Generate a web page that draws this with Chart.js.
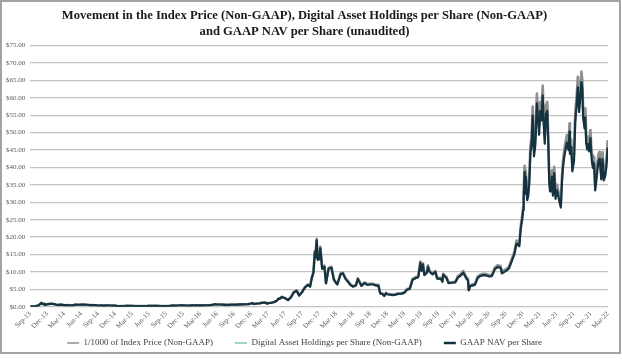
<!DOCTYPE html>
<html>
<head>
<meta charset="utf-8">
<script src="https://cdn.jsdelivr.net/npm/chart.js@4.4.1/dist/chart.umd.min.js"></script>
<style>
  html, body { margin: 0; padding: 0; background: #fff; }
  #wrap { width: 622px; height: 360px; }
</style>
</head>
<body>
<div id="wrap"><canvas id="navChart" width="622" height="360"></canvas></div>
<script>
// quarter labels on the x axis
var quarterLabels = ['Sep-13','Dec-13','Mar-14','Jun-14','Sep-14','Dec-14','Mar-15','Jun-15','Sep-15','Dec-15',
    'Mar-16','Jun-16','Sep-16','Dec-16','Mar-17','Jun-17','Sep-17','Dec-17','Mar-18','Jun-18','Sep-18','Dec-18',
    'Mar-19','Jun-19','Sep-19','Dec-19','Mar-20','Jun-20','Sep-20','Dec-20','Mar-21','Jun-21','Sep-21','Dec-21','Mar-22'];

var dates = [
    "2013-09-30","2013-10-15","2013-10-31","2013-11-15","2013-11-22","2013-11-30","2013-12-07","2013-12-15","2013-12-18","2013-12-31",
    "2014-01-15","2014-01-31","2014-02-15","2014-02-28","2014-03-15","2014-03-31","2014-04-15","2014-04-30","2014-05-15","2014-05-31","2014-06-15","2014-06-30","2014-07-15","2014-07-31","2014-08-15","2014-08-31","2014-09-15","2014-09-30","2014-10-15","2014-10-31","2014-11-15","2014-11-30","2014-12-15","2014-12-31",
    "2015-01-14","2015-01-31","2015-02-15","2015-02-28","2015-03-15","2015-03-31","2015-04-15","2015-04-30","2015-05-15","2015-05-31","2015-06-15","2015-06-30","2015-07-15","2015-07-31","2015-08-15","2015-08-31","2015-09-15","2015-09-30","2015-10-15","2015-10-31","2015-11-04","2015-11-15","2015-11-30","2015-12-15","2015-12-31",
    "2016-01-15","2016-01-31","2016-02-15","2016-02-29","2016-03-15","2016-03-31","2016-04-15","2016-04-30","2016-05-15","2016-05-31","2016-06-17","2016-06-30","2016-07-15","2016-07-31","2016-08-15","2016-08-31","2016-09-15","2016-09-30","2016-10-15","2016-10-31","2016-11-15","2016-11-30","2016-12-15","2016-12-31",
    "2017-01-05","2017-01-15","2017-01-31","2017-02-15","2017-02-28","2017-03-15","2017-03-24","2017-03-31","2017-04-15","2017-04-30","2017-05-15","2017-05-25","2017-05-31","2017-06-12","2017-06-30","2017-07-15","2017-07-31","2017-08-15","2017-08-31","2017-09-14","2017-09-30","2017-10-15","2017-10-31","2017-11-12","2017-11-20","2017-11-30","2017-12-07","2017-12-10","2017-12-17","2017-12-22","2017-12-31",
    "2018-01-06","2018-01-16","2018-01-28","2018-02-06","2018-02-20","2018-03-05","2018-03-18","2018-03-31","2018-04-06","2018-04-24","2018-05-05","2018-05-20","2018-05-31","2018-06-15","2018-06-29","2018-07-15","2018-07-25","2018-08-14","2018-08-31","2018-09-15","2018-09-30","2018-10-15","2018-10-31","2018-11-14","2018-11-20","2018-11-25","2018-12-05","2018-12-15","2018-12-24","2018-12-31",
    "2019-01-15","2019-01-31","2019-02-15","2019-02-28","2019-03-15","2019-03-31","2019-04-15","2019-04-30","2019-05-15","2019-05-31","2019-06-15","2019-06-26","2019-07-02","2019-07-10","2019-07-17","2019-07-31","2019-08-06","2019-08-15","2019-08-31","2019-09-15","2019-09-25","2019-10-15","2019-10-23","2019-10-27","2019-11-15","2019-11-25","2019-12-15","2019-12-31",
    "2020-01-15","2020-01-31","2020-02-13","2020-02-29","2020-03-08","2020-03-12","2020-03-20","2020-03-31","2020-04-15","2020-04-30","2020-05-15","2020-05-31","2020-06-15","2020-06-30","2020-07-15","2020-07-31","2020-08-15","2020-08-31","2020-09-08","2020-09-30","2020-10-15","2020-10-31","2020-11-15","2020-11-25","2020-11-30","2020-12-10","2020-12-17","2020-12-26","2020-12-31",
    "2021-01-03","2021-01-08","2021-01-11","2021-01-14","2021-01-22","2021-01-28","2021-02-03","2021-02-09","2021-02-15","2021-02-21","2021-02-28","2021-03-05","2021-03-13","2021-03-18","2021-03-25","2021-03-31","2021-04-07","2021-04-14","2021-04-18","2021-04-25",
    "2021-05-01","2021-05-08","2021-05-13","2021-05-19","2021-05-23","2021-05-28","2021-06-03","2021-06-08","2021-06-15","2021-06-22","2021-06-30","2021-07-08","2021-07-20","2021-07-26","2021-07-31","2021-08-07","2021-08-14","2021-08-22","2021-08-31","2021-09-06",
    "2021-09-08","2021-09-15","2021-09-21","2021-09-30","2021-10-06","2021-10-15","2021-10-20","2021-10-27","2021-11-03","2021-11-09","2021-11-14","2021-11-18","2021-11-26","2021-11-30","2021-12-04","2021-12-10","2021-12-15","2021-12-20","2021-12-27","2021-12-31",
    "2022-01-05","2022-01-10","2022-01-16","2022-01-22","2022-01-28","2022-02-04","2022-02-10","2022-02-16","2022-02-24","2022-03-01","2022-03-07","2022-03-15","2022-03-22","2022-03-28","2022-03-31"
];

// 1/1000 of Index Price (Non-GAAP)
var indexPrice = [
    0.13,0.15,0.20,0.42,0.80,1.13,0.75,0.85,0.55,0.75,
    0.85,0.83,0.65,0.56,0.63,0.46,0.52,0.45,0.45,0.63,0.60,0.64,0.62,0.59,0.50,0.48,0.47,0.38,0.39,0.33,0.40,0.38,0.35,0.32,
    0.18,0.23,0.24,0.26,0.29,0.25,0.22,0.24,0.24,0.23,0.24,0.26,0.29,0.28,0.26,0.23,0.23,0.24,0.26,0.33,0.45,0.33,0.37,0.45,0.43,
    0.38,0.37,0.40,0.43,0.41,0.42,0.43,0.45,0.45,0.53,0.75,0.67,0.66,0.62,0.57,0.57,0.61,0.61,0.64,0.70,0.71,0.74,0.78,0.96,
    1.10,0.82,0.97,1.00,1.19,1.25,0.93,1.08,1.18,1.35,1.75,2.40,2.30,2.90,2.50,1.95,2.80,4.20,4.70,3.30,4.30,5.70,6.40,5.90,8.20,10.0,16.0,14.5,19.5,13.8,13.9,
    17.2,11.2,11.8,6.9,11.2,11.5,7.9,6.9,6.6,9.6,9.8,8.2,7.5,6.5,5.9,6.3,8.2,6.2,7.0,6.5,6.6,6.6,6.3,6.3,4.6,3.9,3.8,3.2,4.0,3.7,
    3.6,3.45,3.6,3.8,3.9,4.1,5.1,5.3,8.0,8.5,8.8,13.0,10.6,12.5,9.4,10.1,11.9,10.3,9.6,10.3,8.4,8.3,7.4,9.5,8.5,7.0,7.1,7.2,
    8.8,9.4,10.3,8.6,8.0,4.9,6.2,6.4,6.6,8.7,9.3,9.5,9.4,9.1,9.2,11.3,11.9,11.7,10.1,10.8,11.5,13.8,16.0,19.0,18.8,18.2,23.0,26.5,29.0,
    32.8,40.5,34.0,39.2,32.0,33.5,37.5,46.5,48.7,57.5,45.2,48.8,61.2,57.5,51.7,58.8,56.0,63.5,56.2,49.0,
    57.8,58.8,49.7,37.0,34.7,35.6,39.2,33.4,40.2,32.5,35.0,32.9,29.8,37.3,41.5,44.6,47.0,49.3,47.1,52.7,
    46.0,48.1,40.7,43.8,55.4,61.5,66.0,58.5,63.0,67.5,65.0,56.9,53.6,57.0,49.2,47.2,48.9,46.7,50.7,46.3,
    43.5,41.8,43.1,35.0,37.7,41.5,44.0,44.5,38.3,44.4,38.0,39.3,42.4,47.5,45.5
];

// GAAP NAV per share (digital asset holdings per share sits on the same values in the picture)
var navPerShare = [
    0.13,0.15,0.20,0.42,0.80,1.13,0.75,0.85,0.55,0.75,
    0.85,0.83,0.65,0.56,0.63,0.46,0.52,0.45,0.45,0.63,0.60,0.64,0.62,0.59,0.50,0.48,0.47,0.38,0.39,0.33,0.40,0.38,0.35,0.32,
    0.18,0.23,0.24,0.26,0.29,0.25,0.22,0.24,0.24,0.23,0.24,0.26,0.29,0.28,0.26,0.23,0.23,0.24,0.26,0.33,0.45,0.33,0.37,0.45,0.43,
    0.38,0.37,0.40,0.43,0.41,0.42,0.43,0.45,0.45,0.53,0.75,0.67,0.66,0.62,0.57,0.57,0.61,0.61,0.64,0.70,0.71,0.74,0.78,0.96,
    1.08,0.80,0.95,0.98,1.17,1.22,0.91,1.06,1.16,1.32,1.71,2.35,2.25,2.84,2.45,1.91,2.74,4.11,4.60,3.23,4.21,5.58,6.27,5.78,8.03,9.80,15.7,14.2,19.1,13.5,13.6,
    16.8,10.9,11.5,6.7,10.9,11.2,7.7,6.7,6.4,9.4,9.6,8.0,7.3,6.3,5.8,6.1,8.0,6.0,6.8,6.3,6.4,6.4,6.1,6.1,4.5,3.8,3.7,3.1,3.9,3.6,
    3.5,3.35,3.5,3.7,3.8,4.0,4.9,5.1,7.8,8.2,8.5,12.6,10.3,12.1,9.1,9.8,11.5,10.0,9.3,10.0,8.1,8.0,7.2,9.2,8.2,6.8,6.9,7.0,
    8.4,9.0,9.8,8.2,7.6,4.7,5.9,6.1,6.3,8.3,8.9,9.1,9.0,8.7,8.8,10.8,11.4,11.2,9.6,10.3,11.0,13.2,15.3,18.1,18.0,17.4,22.0,25.3,27.7,
    31.3,38.7,32.5,37.4,30.6,32.0,35.8,44.4,46.5,54.9,43.2,46.6,58.4,54.9,49.4,56.2,53.5,60.6,53.7,46.8,
    55.2,56.2,47.5,35.3,33.1,34.0,37.4,31.9,38.4,31.0,33.4,31.4,28.5,35.6,39.6,42.6,44.9,47.1,45.0,50.3,
    43.9,45.9,38.9,41.8,52.9,58.7,63.0,55.9,60.2,64.5,62.1,54.3,51.2,54.4,47.0,45.1,46.7,44.6,48.4,44.2,
    41.5,39.9,41.2,33.4,36.0,39.6,42.0,42.5,36.6,42.4,36.3,37.5,40.5,45.4,43.5
];

var yTicks = [0, 5, 10, 15, 20, 25, 30, 35, 40, 45, 50, 55, 60, 65, 70, 75];

// months counted from end of Sep-13
function monthPos(d) {
    var p = d.split('-').map(Number);
    return (p[0] - 2013) * 12 + (p[1] - 9) + (p[2] - 30) / 30.4;
}

function toPoints(values) {
    var pts = [];
    for (var i = 0; i < values.length; i++) {
        pts.push({ x: monthPos(dates[i]), y: values[i] });
    }
    return pts;
}

var serif = "'Liberation Serif', 'Times New Roman', serif";
var LEGEND_LIFT = 17;

var framePlugin = {
    id: 'frame',
    beforeUpdate: function (chart) {
        // the legend sits closer to the axis labels than its item spacing would allow
        var lg = chart.legend;
        if (lg && !lg._lifted) {
            var origDraw = lg.draw;
            lg.draw = function () {
                this.ctx.save();
                this.ctx.translate(0, -LEGEND_LIFT);
                origDraw.apply(this, arguments);
                this.ctx.restore();
            };
            lg._lifted = true;
        }
    },
    beforeDraw: function (chart) {
        var ctx = chart.ctx;
        ctx.save();
        ctx.fillStyle = '#ffffff';
        ctx.fillRect(0, 0, chart.width, chart.height);
        ctx.restore();
    },
    afterDraw: function (chart) {
        var ctx = chart.ctx;
        ctx.save();
        ctx.strokeStyle = '#a3a3a3';
        ctx.lineWidth = 2;
        ctx.strokeRect(1, 1, 619, 352);
        ctx.restore();
    }
};

var legendWidths = [1.4, 1.2, 2.6];

var ctx = document.getElementById('navChart').getContext('2d');
var navChart = new Chart(ctx, {
    type: 'line',
    data: {
        datasets: [{
            label: '1/1000 of Index Price (Non-GAAP)',
            data: toPoints(indexPrice),
            borderColor: '#8f8f8f',
            borderWidth: 2.6,
            order: 3
        }, {
            label: 'Digital Asset Holdings per Share (Non-GAAP)',
            data: toPoints(navPerShare),
            borderColor: '#3fa79e',
            borderWidth: 1.2,
            order: 2
        }, {
            label: 'GAAP NAV per Share',
            data: toPoints(navPerShare),
            borderColor: '#14323f',
            borderWidth: 2.2,
            order: 1
        }]
    },
    options: {
        responsive: false,
        animation: false,
        layout: { padding: { left: 1, right: 14, top: 2, bottom: -14.5 } },
        elements: {
            point: { radius: 0 },
            line: { tension: 0, borderJoinStyle: 'round' }
        },
        scales: {
            x: {
                type: 'linear',
                min: 0,
                max: 102,
                afterBuildTicks: function (scale) {
                    scale.ticks = quarterLabels.map(function (l, i) { return { value: i * 3 }; });
                },
                grid: { display: false, drawTicks: false },
                border: { display: false },
                ticks: {
                    autoSkip: false,
                    minRotation: 45,
                    maxRotation: 45,
                    padding: 3,
                    color: '#595959',
                    font: { family: serif, size: 7 },
                    callback: function (v) { return quarterLabels[Math.round(v / 3)]; }
                }
            },
            y: {
                min: 0,
                max: 75,
                afterBuildTicks: function (scale) {
                    scale.ticks = yTicks.map(function (v) { return { value: v }; });
                },
                grid: { color: '#c3c3c3', lineWidth: 1.3, drawTicks: false },
                border: { display: false },
                ticks: {
                    padding: 5,
                    color: '#595959',
                    font: { family: serif, size: 7 },
                    callback: function (v) { return '$' + v.toFixed(2); }
                }
            }
        },
        plugins: {
            title: {
                display: true,
                text: ['Movement in the Index Price (Non-GAAP), Digital Asset Holdings per Share (Non-GAAP)',
                       'and GAAP NAV per Share (unaudited)'],
                color: '#1a1a1a',
                font: { family: serif, size: 12.6, weight: 'bold', lineHeight: 1.25 },
                padding: { top: 6, bottom: 6 }
            },
            legend: {
                position: 'bottom',
                labels: {
                    usePointStyle: true,
                    pointStyle: 'line',
                    pointStyleWidth: 12,
                    boxHeight: 8,
                    padding: 22,
                    color: '#404040',
                    font: { family: serif, size: 9 },
                    sort: function (a, b) { return a.datasetIndex - b.datasetIndex; },
                    generateLabels: function (chart) {
                        var items = Chart.defaults.plugins.legend.labels.generateLabels(chart);
                        items.forEach(function (it) { it.lineWidth = legendWidths[it.datasetIndex]; });
                        return items;
                    }
                }
            },
            tooltip: { enabled: false }
        }
    },
    plugins: [framePlugin]
});
</script>
</body>
</html>
